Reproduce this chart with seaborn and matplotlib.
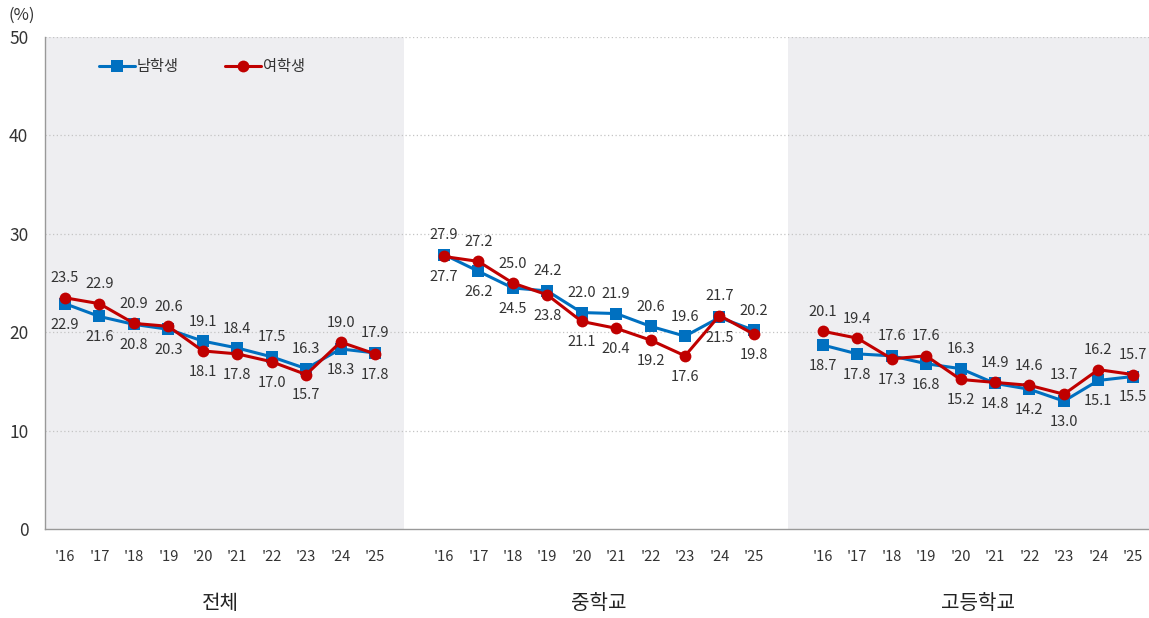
import matplotlib
matplotlib.use("Agg")
import matplotlib.pyplot as plt
import seaborn as sns
import pandas as pd
import numpy as np

groups = ["전체", "중학교", "고등학교"]
years = ["'16", "'17", "'18", "'19", "'20", "'21", "'22", "'23", "'24", "'25"]
series_names = ["남학생", "여학생"]

male_total = [22.9, 21.6, 20.8, 20.3, 19.1, 18.4, 17.5, 16.3, 18.3, 17.9]
female_total = [23.5, 22.9, 20.9, 20.6, 18.1, 17.8, 17.0, 15.7, 19.0, 17.8]
male_middle = [27.9, 26.2, 24.5, 24.2, 22.0, 21.9, 20.6, 19.6, 21.5, 20.2]
female_middle = [27.7, 27.2, 25.0, 23.8, 21.1, 20.4, 19.2, 17.6, 21.7, 19.8]
male_high = [18.7, 17.8, 17.6, 16.8, 16.3, 14.8, 14.2, 13.0, 15.1, 15.5]
female_high = [20.1, 19.4, 17.3, 17.6, 15.2, 14.9, 14.6, 13.7, 16.2, 15.7]

male = [male_total, male_middle, male_high]
female = [female_total, female_middle, female_high]

sns.set_style("white")
plt.rcParams['font.family'] = ['Noto Sans CJK KR', 'DejaVu Sans']

BLUE = "#0070C0"
RED = "#C00000"
SHADE = "#EEEEF1"
TXT = "#333333"

rows = []
for g in range(3):
    for i in range(10):
        pos = i + 11 * g
        rows.append(dict(group=groups[g], pos=pos, series=series_names[0], value=male[g][i]))
        rows.append(dict(group=groups[g], pos=pos, series=series_names[1], value=female[g][i]))
df = pd.DataFrame(rows)

fig = plt.figure(figsize=(11.49, 6.18), dpi=100)
ax = fig.add_axes([0.0392, 0.144, 0.9608, 0.796])

xmin, xmax = -0.58, 31.47
ax.axvspan(xmin, 9.84, color=SHADE, zorder=0, lw=0)
ax.axvspan(20.99, xmax, color=SHADE, zorder=0, lw=0)

for g in range(3):
    sub = df[df.group == groups[g]]
    sns.lineplot(data=sub[sub.series == series_names[0]], x="pos", y="value", ax=ax,
                 color=BLUE, marker="s", markersize=8, linewidth=2.2,
                 markeredgewidth=0, label=series_names[0] if g == 0 else None, zorder=3)
    sns.lineplot(data=sub[sub.series == series_names[1]], x="pos", y="value", ax=ax,
                 color=RED, marker="o", markersize=8.5, linewidth=2.2,
                 markeredgewidth=0, label=series_names[1] if g == 0 else None, zorder=4)

# data labels
for g in range(3):
    for i in range(10):
        pos = i + 11 * g
        m, f = male[g][i], female[g][i]
        if m >= f:
            up, dn = m, f
        else:
            up, dn = f, m
        ax.annotate(f"{up:.1f}", (pos, up), xytext=(0, 14), textcoords="offset points",
                    ha="center", va="center", fontsize=10.5, color=TXT)
        ax.annotate(f"{dn:.1f}", (pos, dn), xytext=(0, -15), textcoords="offset points",
                    ha="center", va="center", fontsize=10.5, color=TXT)

ax.set_xlim(xmin, xmax)
ax.set_ylim(0, 50)
ax.set_yticks([0, 10, 20, 30, 40, 50])
ax.set_yticklabels(["0", "10", "20", "30", "40", "50"], fontsize=12.5, color=TXT)
ticks = [i + 11 * g for g in range(3) for i in range(10)]
ax.set_xticks(ticks)
ax.set_xticklabels(years * 3, fontsize=10.5, color=TXT)
ax.tick_params(axis="both", length=0)
ax.tick_params(axis="x", pad=15)
ax.tick_params(axis="y", pad=12)
ax.set_xlabel("")
ax.set_ylabel("")

for y in [10, 20, 30, 40, 50]:
    ax.axhline(y, color="#C4C4C4", linestyle=(0, (1, 2)), linewidth=0.9, zorder=1)

for s in ["top", "right"]:
    ax.spines[s].set_visible(False)
ax.spines["left"].set_color("#999999")
ax.spines["bottom"].set_color("#999999")
ax.spines["left"].set_linewidth(1)
ax.spines["bottom"].set_linewidth(1)

for g in range(3):
    ax.text(4.5 + 11 * g, -0.152, groups[g], transform=ax.get_xaxis_transform(),
            ha="center", va="center", fontsize=14.5, color="#222222")

ax.text(-0.021, 1.045, "(%)", transform=ax.transAxes, ha="center", va="center",
        fontsize=12, color=TXT)

leg = ax.legend(loc="upper left", bbox_to_anchor=(0.036, 0.985), ncol=2, frameon=False,
                fontsize=11, handlelength=2.4, columnspacing=3.0, handletextpad=0.1)
for t in leg.get_texts():
    t.set_color(TXT)

fig.savefig("out.png", dpi=100)
